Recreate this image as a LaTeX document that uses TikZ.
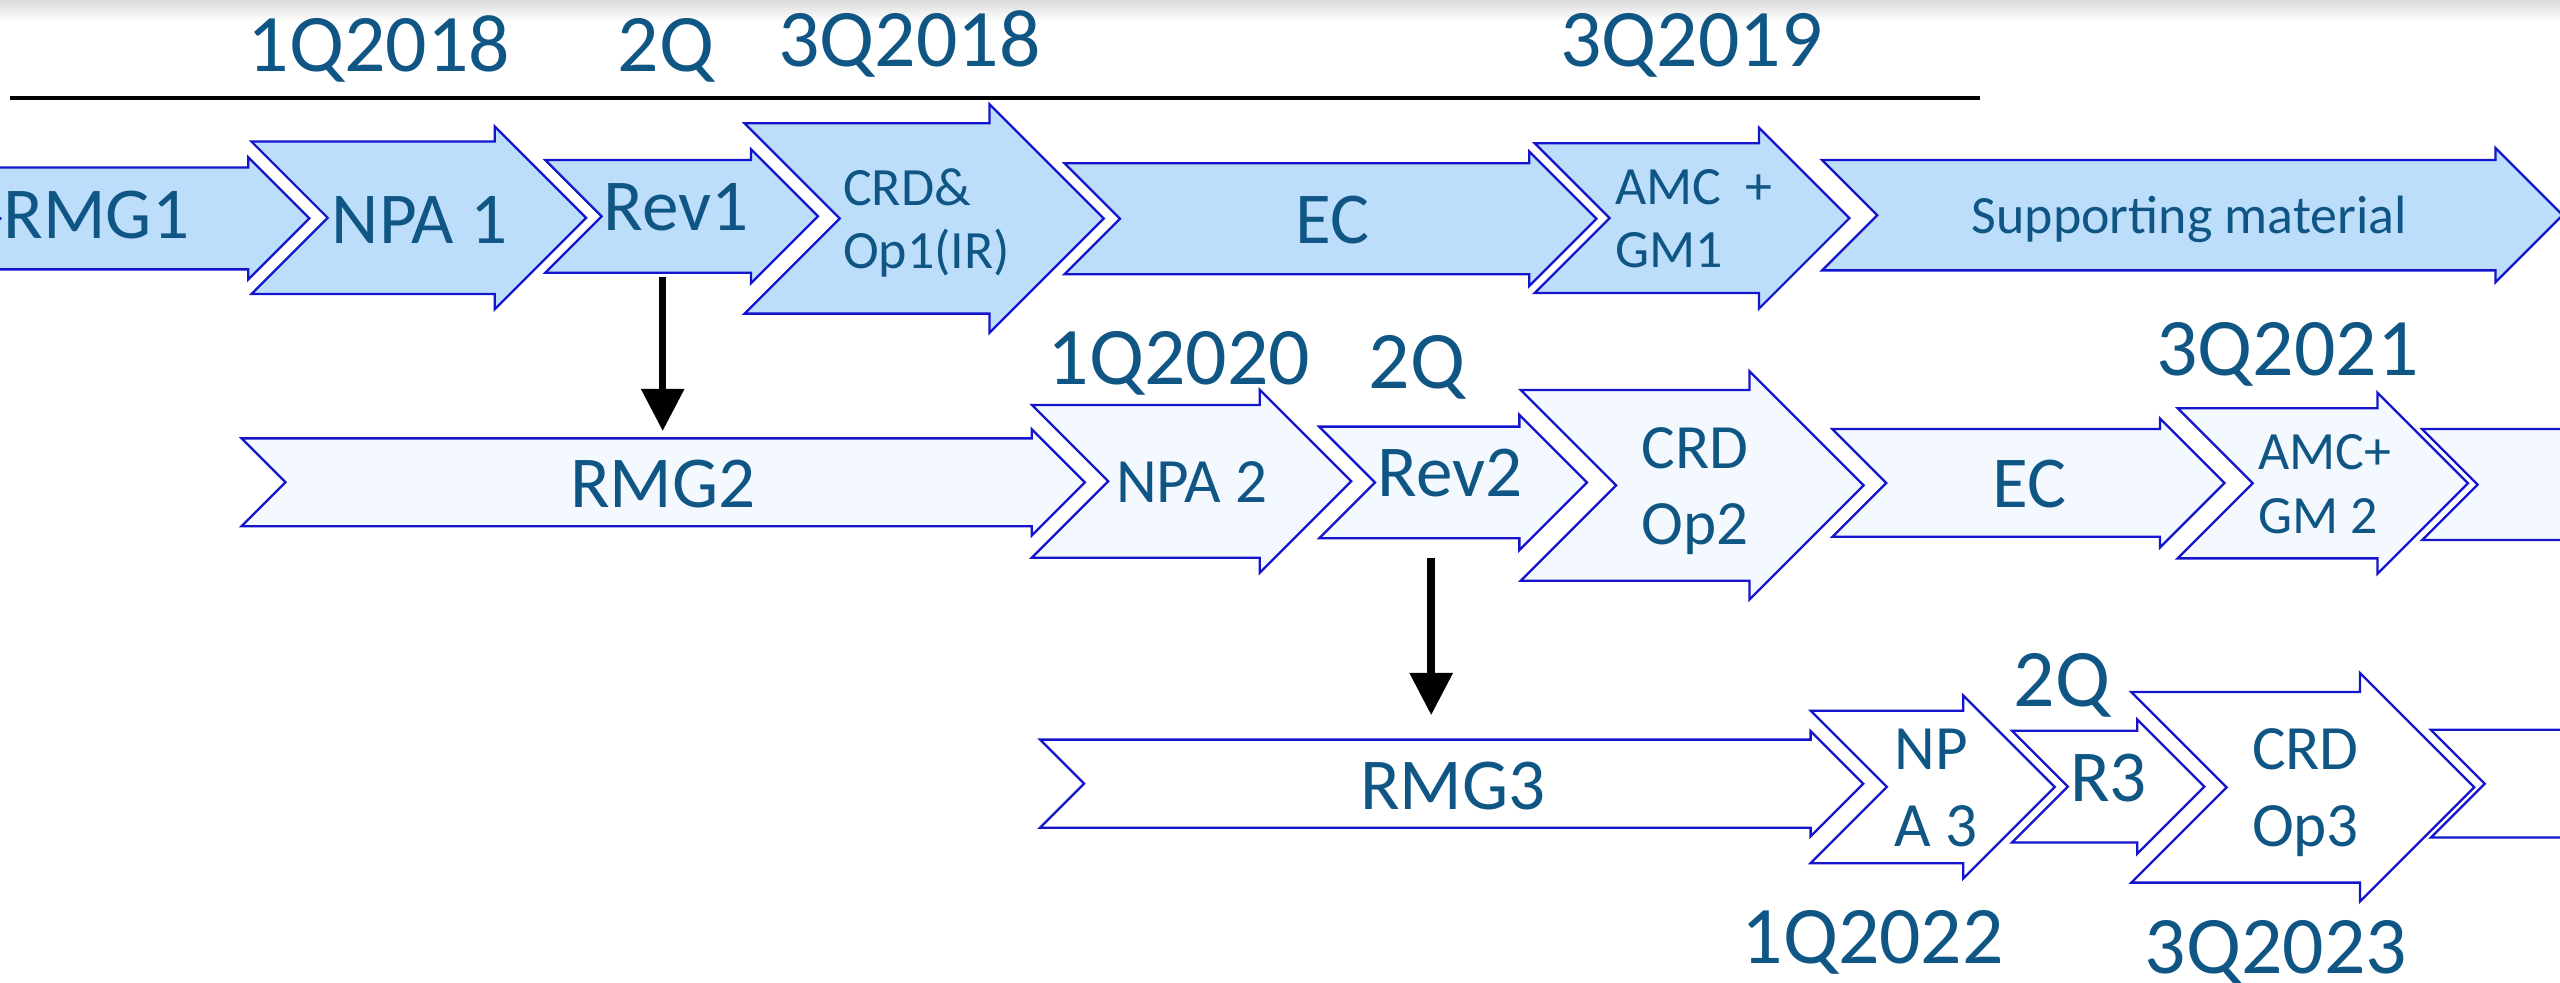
\documentclass[tikz,border=0pt]{standalone}
\usepackage{fontspec}
\setmainfont{Carlito}
\usetikzlibrary{arrows.meta}

\definecolor{azultxt}{RGB}{16,86,132}
\definecolor{borde}{RGB}{20,20,205}
\definecolor{fila1}{RGB}{189,222,251}
\definecolor{fila2}{RGB}{244,249,255}

% Flecha de bloque con muesca: estilo, x izq., x hombro, y centro, semialto cuerpo, semialto punta
\newcommand{\bloque}[6]{%
  \draw[#1] (#2,#4-#5) -- (#3,#4-#5) -- (#3,#4-#6) -- (#3+#6,#4) -- (#3,#4+#6)
    -- (#3,#4+#5) -- (#2,#4+#5) -- (#2+#5,#4) -- cycle;}

\tikzset{
  fase1/.style={draw=borde, fill=fila1, line width=0.8pt},
  fase2/.style={draw=borde, fill=fila2, line width=0.8pt},
  fase3/.style={draw=borde, fill=white, line width=0.8pt},
  fecha/.style={text=azultxt, inner sep=0pt, anchor=base, font=\fontsize{28.5}{34}\selectfont},
  grande/.style={text=azultxt, inner sep=0pt, anchor=base, font=\fontsize{25.5}{30}\selectfont},
  medio/.style={text=azultxt, inner sep=0pt, anchor=base, font=\fontsize{22}{26}\selectfont},
  chico/.style={text=azultxt, inner sep=0pt, anchor=base, font=\fontsize{18.8}{22}\selectfont},
  flecha/.style={-{Triangle[length=14.7pt,width=14.5pt]}, line width=2.6pt}
}

\begin{document}
\begin{tikzpicture}[x=0.02cm, y=-0.02cm]
  \useasboundingbox (0,0) rectangle (1568,602);
  \clip (0,0) rectangle (1568,602);
  \shade[top color=black!14, bottom color=white] (0,0) rectangle (1568,13);

  % Linea de tiempo
  \draw[line width=1.1pt] (6,60) -- (1213,60);
  \node[fecha] (f1q18) at (232,43.9) {1Q2018};
  \node[fecha] (f2q18) at (408,43.9) {2Q};
  \node[fecha] (f3q18) at (557,40.8) {3Q2018};
  \node[fecha] (f3q19) at (1036,40.8) {3Q2019};

  % Fila 1
  \bloque{fase1}{-31}{152}{133.8}{31.2}{37.5}
  \bloque{fase1}{154}{303}{133.4}{46.7}{56}
  \bloque{fase1}{334}{460}{132.5}{34.5}{41}
  \bloque{fase1}{456}{606}{133.8}{58.3}{70}
  \bloque{fase1}{652}{936.6}{134}{34}{41.2}
  \bloque{fase1}{940}{1077.4}{133.6}{45.9}{55.4}
  \bloque{fase1}{1116}{1528.5}{131.8}{33.8}{41.1}
  \node[grande] (trmg1) at (59,146) {RMG1};
  \node[grande] (tnpa1) at (257,149) {NPA 1};
  \node[grande] (trev1) at (414,140.9) {Rev1};
  \node[chico, anchor=base west] (tcrd1) at (516,125.6) {CRD\&};
  \node[chico, anchor=base west] (top1) at (516,164.3) {Op1(IR)};
  \node[grande] (tec1) at (816,149) {EC};
  \node[chico, anchor=base west] (tamc1) at (989,125) {AMC~~+};
  \node[chico, anchor=base west] (tgm1) at (989,164) {GM1};
  \node[chico] (tsup) at (1341,143) {Supporting material};

  % Fila 2
  \node[fecha] (f1q20) at (722,235.8) {1Q2020};
  \node[fecha] (f2q20) at (868,237.8) {2Q};
  \node[fecha] (f3q21) at (1401,229.7) {3Q2021};
  \bloque{fase2}{148}{632}{295.4}{26.9}{32.5}
  \bloque{fase2}{632}{771.6}{294.8}{46.8}{56}
  \bloque{fase2}{808}{930.6}{295.5}{34.2}{41.4}
  \bloque{fase2}{931.5}{1071.5}{297.3}{58.4}{70}
  \bloque{fase2}{1122.3}{1323}{295.8}{33}{39.5}
  \bloque{fase2}{1333.8}{1456.2}{296}{46}{55.4}
  \bloque{fase2}{1483.5}{1700}{296.8}{34}{41}
  \node[grande] (trmg2) at (406,310.7) {RMG2};
  \node[medio] (tnpa2) at (730,307.9) {NPA 2};
  \node[grande] (trev2) at (888,303.8) {Rev2};
  \node[medio, anchor=base west] (tcrd2) at (1005,286.9) {CRD};
  \node[medio, anchor=base west] (top2) at (1005,333.8) {Op2};
  \node[grande] (tec2) at (1243,311) {EC};
  \node[chico, anchor=base west] (tamc2) at (1383,287.5) {AMC+};
  \node[chico, anchor=base west] (tgm2) at (1383,326.7) {GM 2};

  % Fila 3
  \node[fecha] (f2q22) at (1263,432.8) {2Q};
  \node[fecha] (f1q22) at (1147,590) {1Q2022};
  \node[fecha] (f3q23) at (1394,596) {3Q2023};
  \bloque{fase3}{637}{1109}{480}{27}{32.2}
  \bloque{fase3}{1109}{1202.5}{482}{46.7}{56}
  \bloque{fase3}{1232.4}{1309}{481.8}{34.2}{41.2}
  \bloque{fase3}{1305.4}{1445.5}{482.2}{58.4}{70}
  \bloque{fase3}{1488.9}{1700}{480}{33}{40}
  \node[grande] (trmg3) at (889.8,495.7) {RMG3};
  \node[medio, anchor=base west] (tnp3) at (1160,471.6) {NP};
  \node[medio, anchor=base west] (ta3) at (1160,518.6) {A 3};
  \node[grande] (tr3) at (1291.5,491) {R3};
  \node[medio, anchor=base west] (tcrd3) at (1379,471.6) {CRD};
  \node[medio, anchor=base west] (top3) at (1379,518.6) {Op3};

  % Revisiones que abren la siguiente fase
  \coordinate (rev1) at (405.9,169.5);
  \coordinate (rmg2) at (405.9,264);
  \coordinate (rev2) at (876.6,342);
  \coordinate (rmg3) at (876.6,438);
  \draw[flecha] (rev1) -- (rmg2);
  \draw[flecha] (rev2) -- (rmg3);
\end{tikzpicture}
\end{document}
